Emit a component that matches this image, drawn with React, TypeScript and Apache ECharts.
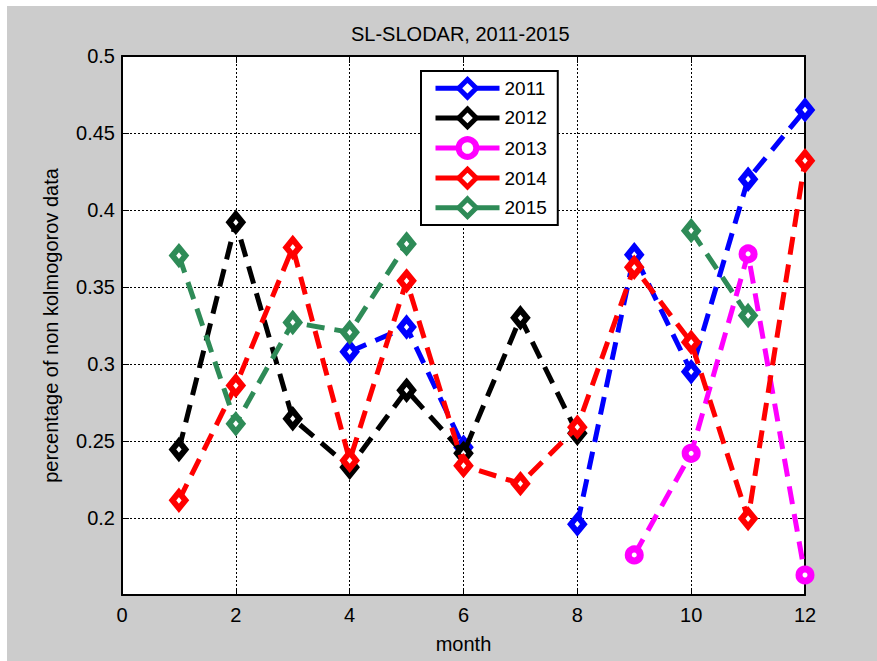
import React, { useEffect, useRef } from "react";
import * as echarts from "echarts";

const months = [1, 2, 3, 4, 5, 6, 7, 8, 9, 10, 11, 12];
const seriesNames = ["2011", "2012", "2013", "2014", "2015"];
const s2011 = [null, null, null, 0.308, 0.324, 0.246, null, 0.196, 0.371, 0.295, 0.42, 0.465];
const s2012 = [0.2445, 0.392, 0.2645, 0.233, 0.283, 0.242, 0.33, 0.255, null, null, null, null];
const s2013 = [null, null, null, null, null, null, null, null, 0.176, 0.242, 0.3715, 0.163];
const s2014 = [0.2115, 0.286, 0.3757, 0.2374, 0.354, 0.234, 0.2223, 0.259, 0.3628, 0.3141, 0.1996, 0.432];
const s2015 = [0.3704, 0.2612, 0.327, 0.3206, 0.378, null, null, null, null, 0.3866, 0.3315, null];
const seriesValues = [s2011, s2012, s2013, s2014, s2015];
const seriesColors = ["#0000FF", "#000000", "#FF00FF", "#FF0000", "#2E8B57"];
const seriesSymbols = ["diamond", "diamond", "circle", "diamond", "diamond"];

const titleText = "SL-SLODAR, 2011-2015";
const xName = "month";
const yName = "percentage of non kolmogorov data";

const FONT = "'Liberation Sans', Arial, Helvetica, sans-serif";

export default function App() {
  const ref = useRef<HTMLDivElement>(null);
  useEffect(() => {
    document.body.style.margin = "0";
    const chart = echarts.init(ref.current!, null, { renderer: "svg" });
    const tick = { show: true, inside: true, length: 7, lineStyle: { color: "#000", width: 1 } };
    const axLine = { show: true, onZero: false, lineStyle: { color: "#000", width: 2 } };
    const bw = (i: number) => (seriesSymbols[i] === "circle" ? 7 : 6);
    const series = seriesNames.map((name, i) => ({
      name,
      type: "line",
      xAxisIndex: 0,
      yAxisIndex: 0,
      clip: false,
      connectNulls: false,
      data: months.map((m, j) => [m, seriesValues[i][j]]),
      symbol: seriesSymbols[i],
      symbolSize: seriesSymbols[i] === "circle" ? 12 : [13, 16],
      lineStyle: { color: seriesColors[i], width: 5, type: [18, 10], cap: "butt" },
      itemStyle: { color: "#ffffff", borderColor: seriesColors[i], borderWidth: bw(i) },
      emphasis: { disabled: true },
      z: 2 + i * 0.01,
    }));
    chart.setOption({
      animation: false,
      backgroundColor: "#cccccc",
      textStyle: { fontFamily: FONT },
      title: {
        text: titleText,
        left: 351,
        top: 24,
        padding: 0,
        textStyle: { fontFamily: FONT, fontSize: 20, fontWeight: "normal", color: "#000" },
      },
      graphic: [
        { type: "rect", left: 0, top: 0, shape: { width: 7, height: 661 }, style: { fill: "#ffffff" }, silent: true },
        { type: "rect", left: 0, top: 0, shape: { width: 877, height: 6 }, style: { fill: "#ffffff" }, silent: true },
      ],
      legend: {
        orient: "vertical",
        left: 421,
        top: 71,
        padding: [6, 11, 6, 12],
        itemWidth: 64,
        itemHeight: 22,
        itemGap: 7,
        backgroundColor: "#ffffff",
        borderColor: "#000",
        borderWidth: 2,
        borderRadius: 0,
        data: seriesNames.map((name, i) => ({
          name,
          itemStyle: { color: "#ffffff", borderColor: seriesColors[i], borderWidth: seriesSymbols[i] === "circle" ? 6 : 5 },
          lineStyle: { color: seriesColors[i], type: "solid", width: 5 },
        })),
        textStyle: { fontFamily: FONT, fontSize: 19, color: "#000" },
        lineStyle: { type: "solid", width: 5 },
        selectedMode: false,
      },
      grid: {
        left: 122,
        top: 56,
        width: 683,
        height: 539,
        show: true,
        backgroundColor: "#ffffff",
        borderWidth: 0,
        containLabel: false,
        outerBoundsMode: "none",
      },
      xAxis: [
        {
          type: "value",
          min: 0,
          max: 12,
          interval: 2,
          position: "bottom",
          name: xName,
          nameLocation: "middle",
          nameGap: 39,
          nameTextStyle: { fontFamily: FONT, fontSize: 20, color: "#000" },
          axisLine: axLine,
          axisTick: tick,
          axisLabel: { fontFamily: FONT, fontSize: 20, color: "#000", margin: 10 },
          splitLine: { show: true, lineStyle: { color: "#000", width: 1, type: [2, 2] } },
        },
        {
          type: "value",
          min: 0,
          max: 12,
          interval: 2,
          position: "top",
          axisLine: axLine,
          axisTick: tick,
          axisLabel: { show: false },
          splitLine: { show: false },
        },
      ],
      yAxis: [
        {
          type: "value",
          min: 0.15,
          max: 0.5,
          interval: 0.05,
          position: "left",
          name: yName,
          nameLocation: "middle",
          nameGap: 61,
          nameTextStyle: { fontFamily: FONT, fontSize: 20, color: "#000" },
          axisLine: axLine,
          axisTick: tick,
          axisLabel: { fontFamily: FONT, fontSize: 20, color: "#000", margin: 7, showMinLabel: false },
          splitLine: { show: true, lineStyle: { color: "#000", width: 1, type: [2, 2] } },
        },
        {
          type: "value",
          min: 0.15,
          max: 0.5,
          interval: 0.05,
          position: "right",
          axisLine: axLine,
          axisTick: tick,
          axisLabel: { show: false },
          splitLine: { show: false },
        },
      ],
      series,
    });
    return () => chart.dispose();
  }, []);
  return <div ref={ref} style={{ width: 877, height: 661, position: "absolute", left: 0, top: 0 }} />;
}
